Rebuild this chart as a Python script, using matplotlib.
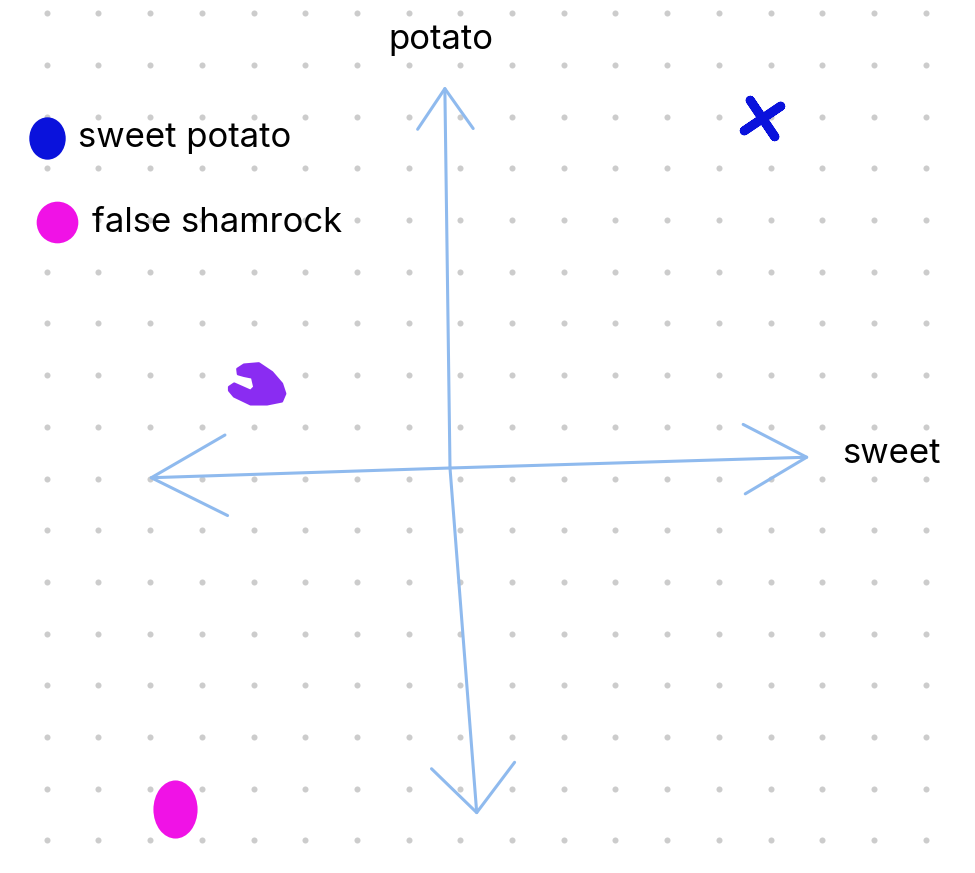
import numpy as np
import matplotlib.pyplot as plt
from matplotlib.patches import FancyArrowPatch
from matplotlib.path import Path
from matplotlib.transforms import Affine2D

# chart frame: one unit = one dot of the paper grid, origin where the axes cross
U = 51.7
OX, OY = 450, 468
W, H = 975, 873

axis_names = ["sweet", "potato"]

# items placed on the sweet / potato plane
items = ["sweet potato", "unknown", "false shamrock"]
item_x = [6.03, -3.73, -5.32]
item_y = [6.77, 1.64, -6.60]
item_col = ["#0a12dc", "#8a2cf2", "#f012e6"]

legend_labels = ["sweet potato", "false shamrock"]
legend_cols = ["#0a12dc", "#f012e6"]

# axis arrow ends: left, right, top, bottom
axis_end_x = [-5.84, 6.96, -0.10, 0.52]
axis_end_y = [-0.19, 0.21, 7.39, -6.71]
head_len = [5.4, 4.5, 2.9, 3.4]
head_wid = [2.9, 2.5, 2.0, 3.0]

AXIS_COL = "#8fbaee"
FONT = "Inter"
FS = 25


def px(x, y):
    # pixel position -> axes fraction, used for the text layout
    return x / W, 1 - y / H


fig = plt.figure(figsize=(W / 100, H / 100), dpi=100)
ax = fig.add_axes([0, 0, 1, 1])
ax.set_xlim(-OX / U, (W - OX) / U)
ax.set_ylim((OY - H) / U, OY / U)
ax.axis("off")

# dotted paper
gx = np.arange(-7.8, 9.5, 1.0)
gy = np.arange(8.795, -7.5, -1.0)
GX, GY = np.meshgrid(gx, gy)
ax.scatter(GX.ravel(), GY.ravel(), s=19, color="#cccccc", linewidths=0, zorder=0)

# hand drawn axes
for ex, ey, hl, hw in zip(axis_end_x, axis_end_y, head_len, head_wid):
    arr = FancyArrowPatch((0, 0), (ex, ey),
                          arrowstyle="->,head_length=%g,head_width=%g" % (hl, hw),
                          mutation_scale=10, color=AXIS_COL, lw=2.2,
                          shrinkA=0, shrinkB=0, capstyle="round", zorder=1)
    ax.add_patch(arr)

ax.text(*px(842, 463), axis_names[0], transform=ax.transAxes, fontsize=FS,
        family=FONT, va="baseline", ha="left")
ax.text(*px(388, 49), axis_names[1], transform=ax.transAxes, fontsize=FS,
        family=FONT, va="baseline", ha="left")

# marker shapes
cross = (4, 2, 34)
hook = Path([(-28.7, -3.7), (-23.7, -0.3), (-7, -7.7), (-3, -3.7), (-5.3, 6.3),
             (-13.7, 8), (-19.7, 9.7), (-20.3, 14.7), (-13.7, 19), (1.3, 20.3),
             (14.7, 11.3), (24.7, -0.3), (28, -10.3), (24.7, -18), (9.7, -21),
             (-7, -21), (-23.7, -13), (-28.7, -7), (-28.7, -3.7)], closed=True)
oval = Path.unit_circle().transformed(Affine2D().scale(0.76, 1))
blob = Path.unit_circle().transformed(Affine2D().scale(0.86, 1))

ax.scatter(item_x[0], item_y[0], marker=cross, s=1000, color=item_col[0],
           linewidths=6.5, zorder=3)
ax.scatter(item_x[1], item_y[1], marker=hook, s=1650, color=item_col[1],
           linewidths=2, zorder=3)
ax.scatter(item_x[2], item_y[2], marker=oval, s=1750, color=item_col[2],
           linewidths=0, zorder=3)

# legend
leg_pos = [(47, 138, 78, 147), (57, 222, 92, 232)]
leg_mark = [(blob, 930), ("o", 900)]
for lab, col, (mx, my, tx, ty), (mk, ms) in zip(legend_labels, legend_cols, leg_pos, leg_mark):
    ax.scatter(*px(mx, my), transform=ax.transAxes, marker=mk, s=ms,
               color=col, linewidths=0, zorder=3)
    ax.text(*px(tx, ty), lab, transform=ax.transAxes, fontsize=FS,
            family=FONT, va="baseline", ha="left")

fig.savefig("out.png", dpi=100)
